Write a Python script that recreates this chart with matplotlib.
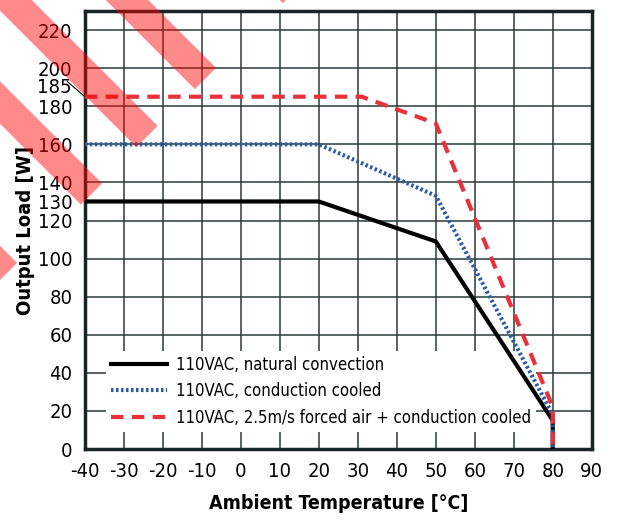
import numpy as np
import matplotlib.pyplot as plt
from matplotlib.patches import Polygon

# Curvas de derating
temp_nat = [-40, 20, 50, 80, 80]
load_nat = [130, 130, 109, 15, 0]
temp_cond = [-40, 20, 50, 80, 80]
load_cond = [160, 160, 133, 18, 0]
temp_forced = [-40, 31, 50, 80, 80]
load_forced = [185, 185, 171, 22, 0]

labels = ['110VAC, natural convection',
          '110VAC, conduction cooled',
          '110VAC, 2.5m/s forced air + conduction cooled']

x_ticks = list(range(-40, 100, 10))
y_ticks = [0, 20, 40, 60, 80, 100, 120, 130, 140, 160, 180, 200, 220]

plt.rcParams['font.family'] = ['DejaVu Sans']
plt.rcParams['font.stretch'] = 'condensed'

fig = plt.figure(figsize=(6.19, 5.24), dpi=100)
ax = fig.add_axes([0.137, 0.143, 0.819, 0.836])

ax.plot(temp_nat, load_nat, color='black', lw=3, label=labels[0], zorder=3)
ax.plot(temp_cond, load_cond, color='#2a5caa', lw=3, ls=(0, (0.6, 0.6)), label=labels[1], zorder=3)
ax.plot(temp_forced, load_forced, color='#e8313a', lw=3, ls=(0, (3, 2)), label=labels[2], zorder=3)

ax.set_xlim(-40, 90)
ax.set_ylim(0, 230)
ax.set_xticks(x_ticks)
ax.set_yticks(y_ticks)
ax.set_xticklabels([str(t) for t in x_ticks], fontsize=14.5)
ax.set_yticklabels([str(t) for t in y_ticks], fontsize=14.5)
ax.tick_params(length=0, pad=9)

# grade sem a linha de 130
for t in x_ticks[1:-1]:
    ax.axvline(t, color='#2b3a3a', lw=1.1, zorder=1)
for t in [20, 40, 60, 80, 100, 120, 140, 160, 180, 200, 220]:
    ax.axhline(t, color='#2b3a3a', lw=1.1, zorder=1)

for s in ax.spines.values():
    s.set_linewidth(2.5)
    s.set_color('#1a2626')

# rótulo 185 com linha de chamada
ax.text(-43.3, 190, '185', fontsize=14.5, ha='right', va='center')
ax.plot([-44.5, -40], [193, 185], color='black', lw=0.8, clip_on=False)

ax.set_xlabel('Ambient Temperature [°C]', fontsize=14, fontweight='bold', labelpad=10)
ax.set_ylabel('Output Load [W]', fontsize=14.5, fontweight='bold', labelpad=2)

leg = ax.legend(loc='upper left', bbox_to_anchor=(0.025, 0.243), fontsize=12,
                handlelength=3.4, handletextpad=0.5, labelspacing=0.5,
                frameon=True, fancybox=False, borderpad=0.3)
leg.get_frame().set_edgecolor('none')
leg.get_frame().set_facecolor('white')
leg.get_frame().set_alpha(1)
leg.set_zorder(2)

# faixas vermelhas (marca d'água)
H = 524
caps = [(147, 136.5), (205.5, 78.5), (91.5, 194), (6.5, 273.5), (293.5, -7.5)]
w = 15
for cx, cy in caps:
    p1 = (cx + w / np.sqrt(2), cy - w / np.sqrt(2))
    p2 = (cx - w / np.sqrt(2), cy + w / np.sqrt(2))
    L = 400
    p3 = (p2[0] - L, p2[1] - L)
    p4 = (p1[0] - L, p1[1] - L)
    pts = [(x, H - y) for x, y in [p1, p2, p3, p4]]
    fig.add_artist(Polygon(pts, closed=True, transform=None, facecolor='red',
                           edgecolor='none', alpha=0.46, zorder=10))

fig.savefig('out.png', dpi=100)
